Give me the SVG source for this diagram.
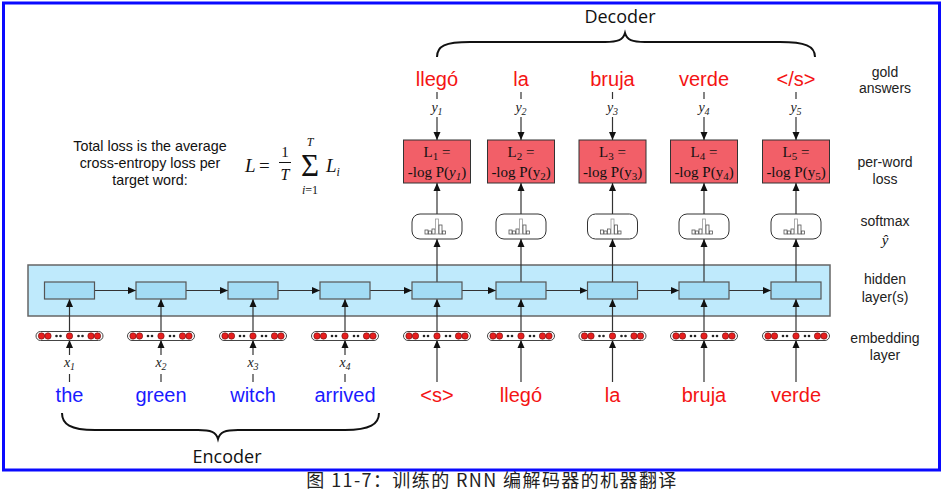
<svg xmlns="http://www.w3.org/2000/svg" width="942" height="493" viewBox="0 0 942 493">
<defs>
<marker id="ah" markerWidth="8" markerHeight="8" refX="8" refY="4" orient="auto" markerUnits="userSpaceOnUse"><path d="M0,0.5 L8,4 L0,7.5 z" fill="#111"/></marker>
</defs>
<style>
.ln{stroke:#333;stroke-width:1.2;fill:none}
.brc{stroke:#111;stroke-width:2;fill:none}
.la{stroke:#333;stroke-width:1.2;fill:none;marker-end:url(#ah)}
.hb{fill:#a3dcf5;stroke:#555;stroke-width:1.2}
.emb{fill:#fff;stroke:#444;stroke-width:1}
.rd{fill:#e81e1e;stroke:#611;stroke-width:0.6}
.bk{fill:#222}
.sm{fill:#fff;stroke:#333;stroke-width:1}
.bar{fill:#fff;stroke:#555;stroke-width:0.8}
.tb{fill:#fff;stroke:#999;stroke-width:0.8}
.loss{fill:#f25f68;stroke:#333;stroke-width:1}
.lt{font-family:"Liberation Serif",serif;font-size:15px;fill:#111;text-anchor:middle}
.wr{font-family:"Liberation Sans",Arial,sans-serif;font-size:20px;fill:#f41414;text-anchor:middle}
.wb{font-family:"Liberation Sans",Arial,sans-serif;font-size:20px;fill:#1a1aff;text-anchor:middle}
.var{font-family:"Liberation Serif",serif;font-style:italic;font-size:14px;fill:#222;text-anchor:middle}
.rl{font-family:"Liberation Sans",Arial,sans-serif;font-size:14px;fill:#222;text-anchor:middle}
.br{font-family:"Open Sans","Noto Sans",sans-serif;font-size:18px;fill:#111;text-anchor:middle}
.tl{font-family:"Liberation Sans",Arial,sans-serif;font-size:14.3px;fill:#111;text-anchor:middle}
.mt{font-family:"Liberation Serif",serif;fill:#111}
</style>
<rect x="3.5" y="3" width="936" height="467" fill="#fff" stroke="#0a0aff" stroke-width="3"/>

<g id="decoder-brace">
<path d="M437,57 C437,46 445,42 470,42 L605,42 C618,42 623,40 625,33 C627,40 632,42 645,42 L780,42 C805,42 815,46 815,57" class="brc"/>
<text x="620" y="23" class="br">Decoder</text>
</g>
<g id="encoder-brace">
<path d="M62,413 C62,424 70,430 95,430 L198,430 C211,430 216,432 218,439 C220,432 225,430 238,430 L345,430 C370,430 379,424 379,413" class="brc"/>
<text x="227" y="463" class="br">Encoder</text>
</g>

<g id="total-loss">
<text class="tl"><tspan x="150" y="151">Total loss is the average</tspan><tspan x="150" y="168">cross-entropy loss per</tspan><tspan x="150" y="185">target word:</tspan></text>
<text x="245" y="172" class="mt" font-size="19" font-style="italic">L</text>
<text x="259" y="172" class="mt" font-size="19">=</text>
<text x="285" y="157" class="mt" font-size="15" text-anchor="middle">1</text>
<line x1="279" y1="162.5" x2="291" y2="162.5" stroke="#111" stroke-width="1"/>
<text x="285" y="180" class="mt" font-size="16" font-style="italic" text-anchor="middle">T</text>
<text x="310" y="176" class="mt" font-size="31" text-anchor="middle">Σ</text>
<text x="310" y="146" class="mt" font-size="12" font-style="italic" text-anchor="middle">T</text>
<text x="310" y="194" class="mt" font-size="12" text-anchor="middle"><tspan font-style="italic">i</tspan>=1</text>
<text x="326" y="172" class="mt" font-size="19" font-style="italic">L<tspan font-size="12" dy="4">i</tspan></text>
</g>

<g id="labels">
<text class="rl"><tspan x="885" y="77">gold</tspan><tspan x="885" y="93">answers</tspan></text>
<text class="rl"><tspan x="885" y="167">per-word</tspan><tspan x="885" y="184">loss</tspan></text>
<text class="rl" x="885" y="226">softmax</text>
<text x="885" y="245" class="mt" font-size="15" font-style="italic" text-anchor="middle">ŷ</text>
<text class="rl"><tspan x="885" y="284">hidden</tspan><tspan x="885" y="302">layer(s)</tspan></text>
<text class="rl"><tspan x="885" y="343">embedding</tspan><tspan x="885" y="360">layer</tspan></text>
</g>

<rect id="hidden-layer" x="28" y="265" width="802" height="51" fill="#bfeafc" stroke="#666" stroke-width="1.5"/>

<g id="connectors">
<line x1="94.5" y1="290.5" x2="136" y2="290.5" class="la"/>
<line x1="186" y1="290.5" x2="228" y2="290.5" class="la"/>
<line x1="278" y1="290.5" x2="320" y2="290.5" class="la"/>
<line x1="370" y1="290.5" x2="412" y2="290.5" class="la"/>
<line x1="462" y1="290.5" x2="496" y2="290.5" class="la"/>
<line x1="546" y1="290.5" x2="587.5" y2="290.5" class="la"/>
<line x1="637.5" y1="290.5" x2="679" y2="290.5" class="la"/>
<line x1="729" y1="290.5" x2="771" y2="290.5" class="la"/>
<line x1="69.5" y1="333" x2="69.5" y2="299" class="la"/>
<line x1="161" y1="333" x2="161" y2="299" class="la"/>
<line x1="253" y1="333" x2="253" y2="299" class="la"/>
<line x1="345" y1="333" x2="345" y2="299" class="la"/>
<line x1="437" y1="333" x2="437" y2="299" class="la"/>
<line x1="521" y1="333" x2="521" y2="299" class="la"/>
<line x1="612.5" y1="333" x2="612.5" y2="299" class="la"/>
<line x1="704" y1="333" x2="704" y2="299" class="la"/>
<line x1="796" y1="333" x2="796" y2="299" class="la"/>
<line x1="69.5" y1="355" x2="69.5" y2="340" class="la"/>
<line x1="161" y1="355" x2="161" y2="340" class="la"/>
<line x1="253" y1="355" x2="253" y2="340" class="la"/>
<line x1="345" y1="355" x2="345" y2="340" class="la"/>
<line x1="69.5" y1="374" x2="69.5" y2="382" class="ln"/>
<line x1="161" y1="374" x2="161" y2="382" class="ln"/>
<line x1="253" y1="374" x2="253" y2="382" class="ln"/>
<line x1="345" y1="374" x2="345" y2="382" class="ln"/>
<line x1="437" y1="382" x2="437" y2="340" class="la"/>
<line x1="521" y1="382" x2="521" y2="340" class="la"/>
<line x1="612.5" y1="382" x2="612.5" y2="340" class="la"/>
<line x1="704" y1="382" x2="704" y2="340" class="la"/>
<line x1="796" y1="382" x2="796" y2="340" class="la"/>
<line x1="437" y1="282" x2="437" y2="239" class="la"/>
<line x1="521" y1="282" x2="521" y2="239" class="la"/>
<line x1="612.5" y1="282" x2="612.5" y2="239" class="la"/>
<line x1="704" y1="282" x2="704" y2="239" class="la"/>
<line x1="796" y1="282" x2="796" y2="239" class="la"/>
<line x1="437" y1="219" x2="437" y2="183" class="la"/>
<line x1="521" y1="219" x2="521" y2="183" class="la"/>
<line x1="612.5" y1="219" x2="612.5" y2="183" class="la"/>
<line x1="704" y1="219" x2="704" y2="183" class="la"/>
<line x1="796" y1="219" x2="796" y2="183" class="la"/>
<line x1="437" y1="117" x2="437" y2="140" class="la"/>
<line x1="521" y1="117" x2="521" y2="140" class="la"/>
<line x1="612.5" y1="117" x2="612.5" y2="140" class="la"/>
<line x1="704" y1="117" x2="704" y2="140" class="la"/>
<line x1="796" y1="117" x2="796" y2="140" class="la"/>
<line x1="437" y1="92" x2="437" y2="99" class="ln"/>
<line x1="521" y1="92" x2="521" y2="99" class="ln"/>
<line x1="612.5" y1="92" x2="612.5" y2="99" class="ln"/>
<line x1="704" y1="92" x2="704" y2="99" class="ln"/>
<line x1="796" y1="92" x2="796" y2="99" class="ln"/>
</g>

<g id="hidden-boxes">
<rect id="h1" x="44.5" y="282" width="50" height="17" class="hb"/>
<rect id="h2" x="136" y="282" width="50" height="17" class="hb"/>
<rect id="h3" x="228" y="282" width="50" height="17" class="hb"/>
<rect id="h4" x="320" y="282" width="50" height="17" class="hb"/>
<rect id="h5" x="412" y="282" width="50" height="17" class="hb"/>
<rect id="h6" x="496" y="282" width="50" height="17" class="hb"/>
<rect id="h7" x="587.5" y="282" width="50" height="17" class="hb"/>
<rect id="h8" x="679" y="282" width="50" height="17" class="hb"/>
<rect id="h9" x="771" y="282" width="50" height="17" class="hb"/>
</g>

<defs>
<g id="embrow">
<rect x="-33.5" y="-4.5" width="67" height="9" rx="4.5" class="emb"/>
<circle cx="-28" cy="0" r="3.2" class="rd"/><circle cx="-21.5" cy="0" r="3.2" class="rd"/>
<circle cx="-13" cy="0" r="1.3" class="bk"/><circle cx="-9" cy="0" r="1.3" class="bk"/>
<circle cx="0" cy="0" r="3.2" class="rd"/>
<circle cx="9" cy="0" r="1.3" class="bk"/><circle cx="13" cy="0" r="1.3" class="bk"/>
<circle cx="21.5" cy="0" r="3.2" class="rd"/><circle cx="28" cy="0" r="3.2" class="rd"/>
</g>
<g id="smx">
<rect x="-25" y="-25" width="50" height="25" rx="8" class="sm"/>
<rect x="-12" y="-9" width="3" height="4" class="bar"/>
<rect x="-8.5" y="-8" width="3" height="3" class="bar"/>
<rect x="-5" y="-10" width="3" height="5" class="bar"/>
<rect x="-1.5" y="-20" width="3" height="15" class="tb"/>
<rect x="2" y="-14" width="3" height="9" class="bar"/>
<rect x="5.5" y="-8" width="3" height="3" class="bar"/>
</g>
</defs>

<g id="embeddings">
<g id="e1" transform="translate(69.5,336)"><use href="#embrow"/></g>
<g id="e2" transform="translate(161,336)"><use href="#embrow"/></g>
<g id="e3" transform="translate(253,336)"><use href="#embrow"/></g>
<g id="e4" transform="translate(345,336)"><use href="#embrow"/></g>
<g id="e5" transform="translate(437,336)"><use href="#embrow"/></g>
<g id="e6" transform="translate(521,336)"><use href="#embrow"/></g>
<g id="e7" transform="translate(612.5,336)"><use href="#embrow"/></g>
<g id="e8" transform="translate(704,336)"><use href="#embrow"/></g>
<g id="e9" transform="translate(796,336)"><use href="#embrow"/></g>
</g>

<g id="softmax">
<g id="s1" transform="translate(437,239)"><use href="#smx"/></g>
<g id="s2" transform="translate(521,239)"><use href="#smx"/></g>
<g id="s3" transform="translate(612.5,239)"><use href="#smx"/></g>
<g id="s4" transform="translate(704,239)"><use href="#smx"/></g>
<g id="s5" transform="translate(796,239)"><use href="#smx"/></g>
</g>

<g id="loss1"><rect x="403.5" y="140" width="67" height="43" class="loss"/><text class="lt"><tspan x="437" y="157">L<tspan font-size="11" dy="3">1</tspan><tspan dy="-3"> =</tspan></tspan><tspan x="437" y="177">-log P(<tspan font-style="italic">y<tspan font-size="11" dy="3">1</tspan></tspan><tspan dy="-3">)</tspan></tspan></text></g>
<g id="loss2"><rect x="487.5" y="140" width="67" height="43" class="loss"/><text class="lt"><tspan x="521" y="157">L<tspan font-size="11" dy="3">2</tspan><tspan dy="-3"> =</tspan></tspan><tspan x="521" y="177">-log P(y<tspan font-size="11" dy="3">2</tspan><tspan dy="-3">)</tspan></tspan></text></g>
<g id="loss3"><rect x="579" y="140" width="67" height="43" class="loss"/><text class="lt"><tspan x="612.5" y="157">L<tspan font-size="11" dy="3">3</tspan><tspan dy="-3"> =</tspan></tspan><tspan x="612.5" y="177">-log P(y<tspan font-size="11" dy="3">3</tspan><tspan dy="-3">)</tspan></tspan></text></g>
<g id="loss4"><rect x="670.5" y="140" width="67" height="43" class="loss"/><text class="lt"><tspan x="704" y="157">L<tspan font-size="11" dy="3">4</tspan><tspan dy="-3"> =</tspan></tspan><tspan x="704" y="177">-log P(y<tspan font-size="11" dy="3">4</tspan><tspan dy="-3">)</tspan></tspan></text></g>
<g id="loss5"><rect x="762.5" y="140" width="67" height="43" class="loss"/><text class="lt"><tspan x="796" y="157">L<tspan font-size="11" dy="3">5</tspan><tspan dy="-3"> =</tspan></tspan><tspan x="796" y="177">-log P(y<tspan font-size="11" dy="3">5</tspan><tspan dy="-3">)</tspan></tspan></text></g>

<g id="gold">
<text x="437" y="86" class="wr">llegó</text>
<text x="521" y="86" class="wr">la</text>
<text x="612.5" y="86" class="wr">bruja</text>
<text x="704" y="86" class="wr">verde</text>
<text x="796" y="86" class="wr">&lt;/s&gt;</text>
<text x="437" y="112" class="var">y<tspan font-size="10" dy="3">1</tspan></text>
<text x="521" y="112" class="var">y<tspan font-size="10" dy="3">2</tspan></text>
<text x="612.5" y="112" class="var">y<tspan font-size="10" dy="3">3</tspan></text>
<text x="704" y="112" class="var">y<tspan font-size="10" dy="3">4</tspan></text>
<text x="796" y="112" class="var">y<tspan font-size="10" dy="3">5</tspan></text>
</g>

<g id="inputs">
<text x="69.5" y="367" class="var">x<tspan font-size="10" dy="3">1</tspan></text>
<text x="161" y="367" class="var">x<tspan font-size="10" dy="3">2</tspan></text>
<text x="253" y="367" class="var">x<tspan font-size="10" dy="3">3</tspan></text>
<text x="345" y="367" class="var">x<tspan font-size="10" dy="3">4</tspan></text>
<text x="69.5" y="402" class="wb">the</text>
<text x="161" y="402" class="wb">green</text>
<text x="253" y="402" class="wb">witch</text>
<text x="345" y="402" class="wb">arrived</text>
<text x="437" y="402" class="wr">&lt;s&gt;</text>
<text x="521" y="402" class="wr">llegó</text>
<text x="612.5" y="402" class="wr">la</text>
<text x="704" y="402" class="wr">bruja</text>
<text x="796" y="402" class="wr">verde</text>
</g>

<text id="caption" x="492" y="487" font-family="'Noto Sans CJK SC','Noto Sans',sans-serif" font-size="18" letter-spacing="1.4" fill="#222" text-anchor="middle">图 11-7：训练的 RNN 编解码器的机器翻译</text>
</svg>
